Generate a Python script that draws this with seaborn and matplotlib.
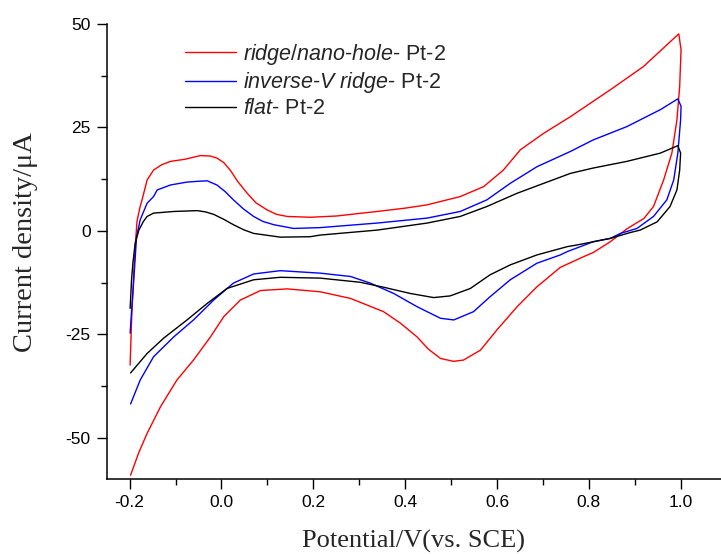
import matplotlib
matplotlib.use("Agg")
import matplotlib.pyplot as plt
import seaborn as sns
import numpy as np
from matplotlib.ticker import MultipleLocator

# ---------------- data ----------------
red_v = [-0.199, -0.196, -0.191, -0.188, -0.184, -0.178, -0.173, -0.162, -0.148, -0.130,
         -0.111, -0.080, -0.046, -0.025, -0.010, 0.005, 0.019, 0.035, 0.056, 0.075,
         0.099, 0.120, 0.143, 0.193, 0.250, 0.339, 0.400, 0.448, 0.520, 0.571,
         0.614, 0.651, 0.702, 0.760, 0.847, 0.919, 0.996,
         1.001, 0.998, 0.992, 0.981, 0.963, 0.941, 0.920, 0.905, 0.883, 0.861,
         0.847, 0.810, 0.789, 0.738, 0.687, 0.644, 0.600, 0.564, 0.527, 0.505,
         0.477, 0.450, 0.426, 0.390, 0.353, 0.317, 0.281, 0.215, 0.143, 0.085,
         0.041, 0.005, -0.024, -0.061, -0.097, -0.133, -0.162, -0.180, -0.198]
red_i = [-32.4, -22.0, -10.0, -3.8, 2.3, 5.5, 7.5, 12.3, 14.7, 16.0,
         16.8, 17.3, 18.2, 18.1, 17.6, 16.5, 14.7, 12.0, 9.1, 6.8,
         5.1, 4.0, 3.5, 3.3, 3.6, 4.7, 5.5, 6.3, 8.3, 10.7,
         14.7, 19.6, 23.6, 27.6, 34.1, 39.7, 47.6,
         43.8, 34.9, 26.8, 18.8, 12.3, 5.9, 3.0, 2.0, 0.5, -1.4,
         -2.6, -5.2, -6.2, -8.8, -13.5, -18.3, -23.9, -28.8, -31.2, -31.5,
         -30.8, -28.5, -25.6, -22.3, -19.5, -17.9, -16.3, -14.7, -14.0, -14.4,
         -16.7, -20.7, -25.6, -31.2, -36.0, -42.5, -48.9, -53.5, -59.0]

blue_v = [-0.199, -0.195, -0.191, -0.185, -0.177, -0.162, -0.148, -0.140, -0.111, -0.075,
          -0.050, -0.031, -0.010, 0.008, 0.026, 0.048, 0.070, 0.090, 0.114, 0.157,
          0.215, 0.339, 0.448, 0.520, 0.578, 0.629, 0.687, 0.760, 0.810, 0.883,
          0.956, 0.994,
          1.001, 1.000, 0.994, 0.985, 0.970, 0.941, 0.905, 0.869, 0.847, 0.810,
          0.753, 0.738, 0.687, 0.629, 0.585, 0.549, 0.506, 0.477, 0.426, 0.375,
          0.324, 0.281, 0.215, 0.128, 0.070, 0.026, -0.017, -0.061, -0.104, -0.148,
          -0.177, -0.198]
blue_i = [-24.7, -18.0, -11.8, -1.4, 2.7, 6.7, 8.3, 9.9, 11.1, 11.8,
          12.0, 12.1, 11.1, 9.5, 7.5, 5.3, 3.5, 2.3, 1.5, 0.6,
          0.8, 1.9, 3.1, 4.7, 7.5, 11.5, 15.5, 19.2, 22.0, 25.2,
          29.3, 31.9,
          30.1, 26.8, 18.8, 12.3, 7.5, 3.5, 0.6, -0.6, -1.8, -2.6,
          -5.0, -5.8, -7.8, -11.8, -15.9, -19.5, -21.5, -21.1, -18.3, -15.1,
          -12.6, -11.0, -10.2, -9.6, -10.4, -12.6, -16.7, -21.5, -25.6, -30.4,
          -36.0, -41.8]

black_v = [-0.199, -0.196, -0.193, -0.188, -0.180, -0.170, -0.162, -0.148, -0.104, -0.053,
           -0.035, -0.017, 0.005, 0.026, 0.048, 0.070, 0.128, 0.193, 0.215, 0.339,
           0.448, 0.520, 0.578, 0.644, 0.702, 0.760, 0.810, 0.883, 0.956, 0.994,
           1.000, 0.998, 0.992, 0.977, 0.949, 0.912, 0.890, 0.847, 0.774, 0.753,
           0.687, 0.629, 0.585, 0.542, 0.498, 0.462, 0.411, 0.353, 0.302, 0.215,
           0.128, 0.070, 0.012, -0.031, -0.075, -0.126, -0.162, -0.198]
black_i = [-18.7, -12.0, -7.8, -3.0, 0.2, 2.3, 3.5, 4.3, 4.7, 4.9,
           4.6, 4.0, 2.8, 1.5, 0.3, -0.6, -1.5, -1.4, -1.0, 0.2,
           1.9, 3.5, 5.9, 9.1, 11.5, 13.9, 15.2, 16.8, 18.8, 20.6,
           18.8, 14.7, 9.9, 5.9, 2.2, 0.2, -0.4, -1.8, -3.4, -3.8,
           -5.8, -8.2, -10.6, -13.9, -15.7, -16.1, -15.1, -13.6, -12.4, -11.4,
           -11.2, -11.8, -13.9, -17.5, -21.5, -25.9, -29.6, -34.3]

series_labels = [r'$\mathit{ridge/nano}$-$\mathit{hole}$- Pt-2',
                 r'$\mathit{inverse}$-$\mathit{V\ ridge}$- Pt-2',
                 r'$\mathit{flat}$- Pt-2']
series_colors = ['#ff0000', '#0000ff', '#000000']

x_ticks = [-0.2, 0.0, 0.2, 0.4, 0.6, 0.8, 1.0]
y_ticks = [-50, -25, 0, 25, 50]

# ---------------- style ----------------
sns.set_style("ticks")
plt.rcParams['font.family'] = ['Liberation Sans', 'DejaVu Sans']
plt.rcParams['mathtext.fontset'] = 'custom'
plt.rcParams['mathtext.it'] = 'Liberation Sans:italic'
plt.rcParams['mathtext.rm'] = 'Liberation Sans'

fig = plt.figure(figsize=(7.21, 5.54), dpi=100)
ax = fig.add_axes([0.148, 0.1348, 0.852, 0.822])

for v, i, lab, col in zip([red_v, blue_v, black_v], [red_i, blue_i, black_i],
                          series_labels, series_colors):
    sns.lineplot(x=v, y=i, sort=False, estimator=None, color=col, label=lab,
                 linewidth=1.0, ax=ax)

ax.set_xlim(-0.25, 1.088)
ax.set_ylim(-60, 50)
ax.set_xticks(x_ticks)
ax.set_xticklabels([f"{t:.1f}" for t in x_ticks])
ax.set_yticks(y_ticks)
ax.set_yticklabels([str(t) for t in y_ticks])
ax.xaxis.set_minor_locator(MultipleLocator(0.1))
ax.yaxis.set_minor_locator(MultipleLocator(12.5))

for s in ['top', 'right']:
    ax.spines[s].set_visible(False)
for s in ['left', 'bottom']:
    ax.spines[s].set_linewidth(1.1)
    ax.spines[s].set_color('black')

ax.tick_params(axis='both', which='major', direction='out', length=7, width=1.0,
               labelsize=12.5, pad=4.5, color='black', labelcolor='black')
ax.tick_params(axis='both', which='minor', direction='out', length=4, width=1.0,
               color='black')

ax.set_xlabel('Potential/V(vs. SCE)', fontsize=19, family=['Liberation Serif'],
              labelpad=14)
ax.set_ylabel('Current density/μA', fontsize=20.5, family=['Liberation Serif'])
ax.yaxis.set_label_coords(-0.112, 0.52)

leg = ax.legend(loc='upper left', bbox_to_anchor=(185 / 721, 1 - 42 / 554),
                bbox_transform=fig.transFigure, frameon=False, fontsize=15.5,
                handlelength=2.37, handletextpad=0.33, labelspacing=0.15,
                borderpad=0, borderaxespad=0)

fig.savefig('out.png', dpi=100)
